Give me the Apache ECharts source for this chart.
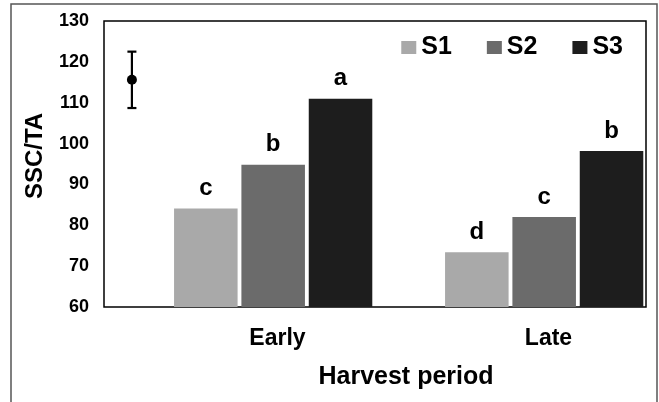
<!DOCTYPE html>
<html>
<head>
<meta charset="utf-8">
<script src="https://cdn.jsdelivr.net/npm/echarts@6/dist/echarts.min.js"></script>
<style>
html,body{margin:0;padding:0;background:#fff;}
#main{width:659px;height:402px;}
</style>
</head>
<body>
<div id="main"></div>
<script>
const categories = ['Early', 'Late'];
const seriesNames = ['S1', 'S2', 'S3'];
const s1Values = [84.1, 73.4];
const s2Values = [94.8, 82.0];
const s3Values = [111.0, 98.2];
const s1Letters = ['c', 'd'];
const s2Letters = ['b', 'c'];
const s3Letters = ['a', 'b'];
const errorBar = { mean: 115.6, low: 108.7, high: 122.5 };
const yTicks = [60, 70, 80, 90, 100, 110, 120, 130];

const FONT = 'Liberation Sans, Arial, sans-serif';
const colors = ['#a9a9a9', '#6b6b6b', '#1d1d1d'];

function barSeries(name, values, letters, color) {
  return {
    name: name,
    type: 'bar',
    data: values,
    itemStyle: { color: color },
    label: {
      show: true,
      position: 'top',
      distance: 8,
      formatter: p => letters[p.dataIndex],
      fontFamily: FONT,
      fontWeight: 'bold',
      fontSize: 24,
      color: '#000'
    }
  };
}

const chart = echarts.init(document.getElementById('main'), null, { renderer: 'canvas' });
chart.setOption({
  animation: false,
  backgroundColor: '#fff',
  textStyle: { fontFamily: FONT },
  graphic: [{
    type: 'rect',
    shape: { x: 11, y: 4, width: 646, height: 430 },
    style: { fill: 'none', stroke: '#555', lineWidth: 1.5 },
    silent: true,
    z: -10
  }],
  grid: {
    left: 104, right: 13, top: 21, bottom: 95,
    show: true, borderColor: '#000', borderWidth: 1.5, backgroundColor: 'transparent'
  },
  legend: {
    data: seriesNames,
    right: 31, top: 30,
    itemWidth: 15, itemHeight: 13, itemGap: 35,
    icon: 'rect',
    textStyle: { fontFamily: FONT, fontWeight: 'bold', fontSize: 25, color: '#000' }
  },
  xAxis: {
    type: 'category',
    data: categories,
    axisLine: { show: false },
    axisTick: { show: false },
    axisLabel: {
      margin: 20,
      fontFamily: FONT, fontWeight: 'bold', fontSize: 23, color: '#000',
      padding: [0, 0, 0, 76]
    },
    name: 'Harvest period',
    nameLocation: 'middle',
    nameGap: 58,
    nameTextStyle: {
      fontFamily: FONT, fontWeight: 'bold', fontSize: 25, color: '#000',
      padding: [0, 0, 0, 62]
    }
  },
  yAxis: {
    type: 'value',
    min: yTicks[0], max: yTicks[yTicks.length - 1], interval: 10,
    axisLine: { show: false },
    axisTick: { show: false },
    splitLine: { show: false },
    axisLabel: {
      margin: 15,
      fontFamily: FONT, fontWeight: 'bold', fontSize: 18, color: '#000'
    },
    name: 'SSC/TA',
    nameLocation: 'middle',
    nameGap: 57,
    nameTextStyle: {
      fontFamily: FONT, fontWeight: 'bold', fontSize: 24, color: '#000',
      padding: [0, 0, 0, 16]
    }
  },
  series: [
    { name: '_blank', type: 'bar', data: [null, null], barGap: '6%', barCategoryGap: '2%' },
    Object.assign(barSeries(seriesNames[0], s1Values, s1Letters, colors[0]), { barGap: '6%', barCategoryGap: '2%' }),
    barSeries(seriesNames[1], s2Values, s2Letters, colors[1]),
    barSeries(seriesNames[2], s3Values, s3Letters, colors[2]),
    {
      name: 'error',
      type: 'custom',
      data: [[0, errorBar.mean, errorBar.low, errorBar.high]],
      renderItem: function (params, api) {
        const band = api.size([1, 0])[0];
        const dx = -0.397 * band;
        const c = api.coord([api.value(0), api.value(1)]);
        const lo = api.coord([api.value(0), api.value(2)]);
        const hi = api.coord([api.value(0), api.value(3)]);
        const x = c[0] + dx;
        const cap = 4.5;
        const st = { stroke: '#000', lineWidth: 2.2 };
        return {
          type: 'group',
          children: [
            { type: 'line', shape: { x1: x, y1: lo[1], x2: x, y2: hi[1] }, style: st },
            { type: 'line', shape: { x1: x - cap, y1: lo[1], x2: x + cap, y2: lo[1] }, style: st },
            { type: 'line', shape: { x1: x - cap, y1: hi[1], x2: x + cap, y2: hi[1] }, style: st },
            { type: 'circle', shape: { cx: x, cy: c[1], r: 5 }, style: { fill: '#000' } }
          ]
        };
      },
      z: 5
    }
  ]
});
</script>
</body>
</html>
